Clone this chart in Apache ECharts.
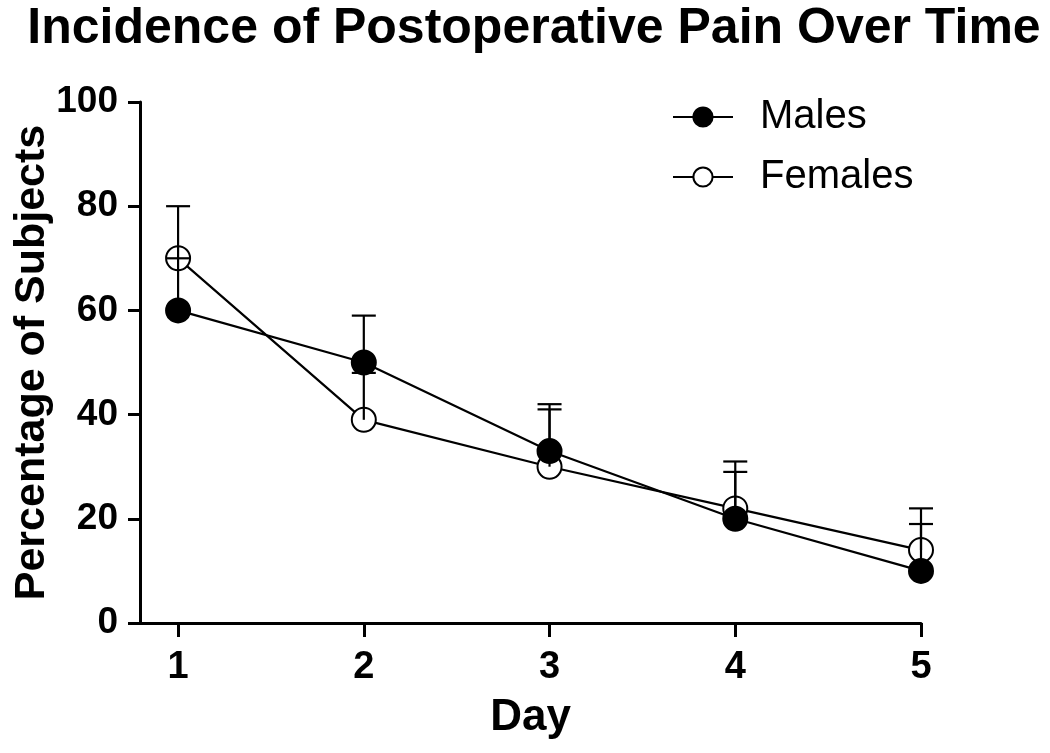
<!DOCTYPE html>
<html>
<head>
<meta charset="utf-8">
<script src="https://cdn.jsdelivr.net/npm/echarts@6/dist/echarts.min.js"></script>
<style>html,body{margin:0;padding:0;background:#fff}#c{width:1050px;height:753px}</style>
</head>
<body>
<div id="c"></div>
<script>
const days = [1, 2, 3, 4, 5];
const malesMean = [60, 50, 33, 20, 10];
const malesErr = [10, 9, 9, 9, 9];
const femalesMean = [70, 39, 30, 22, 14];
const femalesErr = [10, 9, 11, 9, 8];
const yTicks = [0, 20, 40, 60, 80, 100];

const FONT = '"Liberation Sans", Arial, Helvetica, sans-serif';
const chart = echarts.init(document.getElementById('c'), null, {renderer: 'canvas'});

function pairs(xs, ys) { return xs.map((x, i) => [x, ys[i]]); }
function errData(xs, m, e) { return xs.map((x, i) => [x, m[i], m[i] + e[i]]); }

function errRender(params, api) {
  const x = api.value(0);
  const p0 = api.coord([x, api.value(1)]);
  const p1 = api.coord([x, api.value(2)]);
  const hw = 12;
  const st = {stroke: '#000', lineWidth: 2.2};
  return {
    type: 'group',
    children: [
      {type: 'line', shape: {x1: p0[0], y1: p0[1], x2: p1[0], y2: p1[1]}, style: st},
      {type: 'line', shape: {x1: p1[0] - hw, y1: p1[1], x2: p1[0] + hw, y2: p1[1]}, style: st}
    ]
  };
}

const option = {
  animation: false,
  backgroundColor: '#fff',
  title: {
    text: 'Incidence of Postoperative Pain Over Time',
    left: 529, top: -1, textAlign: 'center',
    textStyle: {fontFamily: FONT, fontWeight: 'bold', fontSize: 50, color: '#000'}
  },
  legend: {
    left: 667, top: 92, orient: 'vertical',
    itemWidth: 60, itemHeight: 24, itemGap: 20,
    textStyle: {fontFamily: FONT, fontSize: 40, lineHeight: 40, color: '#000', padding: [0, 0, 0, 22]},
    data: ['Males', 'Females']
  },
  grid: {left: 140, right: 129, top: 102, bottom: 130, containLabel: false, outerBoundsMode: 'none'},
  xAxis: {
    type: 'value', min: 0.795, max: 5,
    name: 'Day', nameLocation: 'middle', nameGap: 73, nameMoveOverlap: false,
    nameTextStyle: {fontFamily: FONT, fontWeight: 'bold', fontSize: 44, color: '#000'},
    axisLine: {lineStyle: {color: '#000', width: 3}},
    axisTick: {show: true, length: 14, lineStyle: {color: '#000', width: 3}, customValues: days},
    axisLabel: {customValues: days, margin: 26, fontFamily: FONT, fontWeight: 'bold', fontSize: 38, color: '#000'},
    splitLine: {show: false}
  },
  yAxis: {
    type: 'value', min: 0, max: 100, interval: 20,
    name: 'Percentage of Subjects', nameLocation: 'middle', nameGap: 86, nameMoveOverlap: false,
    nameTextStyle: {fontFamily: FONT, fontWeight: 'bold', fontSize: 43, color: '#000'},
    axisLine: {show: true, lineStyle: {color: '#000', width: 3}},
    axisTick: {show: true, length: 12, lineStyle: {color: '#000', width: 3}},
    axisLabel: {margin: 22, fontFamily: FONT, fontWeight: 'bold', fontSize: 37, color: '#000',
      formatter: v => yTicks.indexOf(v) >= 0 ? String(v) : ''},
    splitLine: {show: false}
  },
  series: [
    {
      name: 'Males', type: 'line', data: pairs(days, malesMean),
      symbol: 'circle', symbolSize: 24, z: 3,
      lineStyle: {color: '#000', width: 2.2},
      itemStyle: {color: '#000', borderColor: '#000', borderWidth: 2}
    },
    {
      name: 'Females', type: 'line', data: pairs(days, femalesMean),
      symbol: 'circle', symbolSize: 24, z: 2,
      lineStyle: {color: '#000', width: 2.2},
      itemStyle: {color: '#fff', borderColor: '#000', borderWidth: 2}
    },
    {
      type: 'custom', renderItem: errRender, data: errData(days, femalesMean, femalesErr),
      encode: {x: 0, y: [1, 2]}, z: 5, silent: true
    },
    {
      type: 'custom', renderItem: errRender, data: errData(days, malesMean, malesErr),
      encode: {x: 0, y: [1, 2]}, z: 5, silent: true
    }
  ]
};
chart.setOption(option);
</script>
</body>
</html>
